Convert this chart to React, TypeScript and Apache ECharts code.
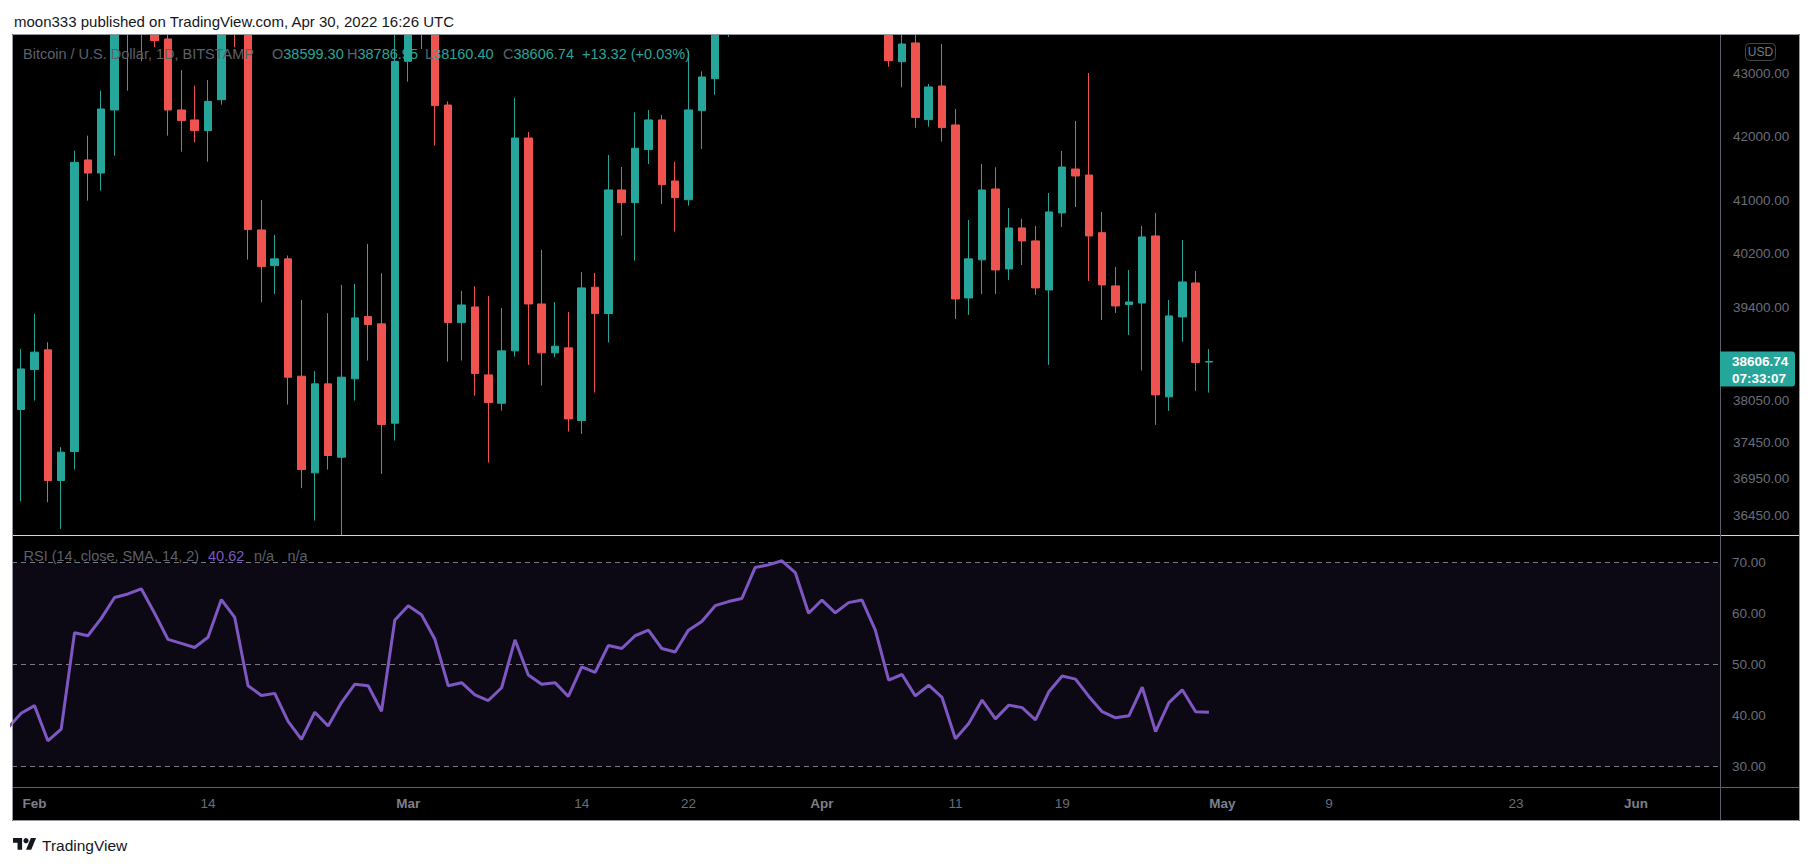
import React, { useEffect, useRef } from 'react';
import * as echarts from 'echarts';

// ---------- data ----------
const CANDLE_START = '2022-01-31';
const candleOpen = [
  37919, 38491, 38776, 36924, 37327, 41634, 41431, 42421, 43850, 44100, 44380, 43564, 42421, 42263, 42094, 42585, 44580, 43940, 40557, 40019, 40120, 38395, 37030, 38285, 37248, 38357, 39262, 39155, 37725,
  43201, 44420, 43920, 42500, 39174, 39404, 38414, 38008, 38761, 41978, 39448, 38732, 38805, 37763, 39696, 39306, 41169, 40974, 41796, 42263, 41308, 41019, 42411, 42921, 44000, 44350, 44530, 46830, 47130, 47450, 47080,
  45540, 46300, 45820, 46420, 46600, 45500, 43195, 43499, 42268, 42804, 42184, 39537, 40105, 41184, 39969, 40587, 40391, 39656, 40816, 41493, 41400, 40516, 39716, 39438, 39462, 40466, 38099, 39257, 39760, 38599.3,
];
const candleClose = [
  38500, 38742, 36924, 37318, 41597, 41431, 42437, 43850, 44100, 44380, 43537, 42421, 42252, 42094, 42558, 44580, 43940, 40562, 40004, 40120, 38381, 37076, 38285, 37271, 38381, 39243, 39145, 37706, 43201,
  44420, 43920, 42490, 39174, 39433, 38433, 38018, 38761, 41978, 39448, 38732, 38829, 37786, 39686, 39306, 41169, 40974, 41817, 42263, 41251, 41050, 42421, 42948, 44000, 44350, 44530, 46830, 47130, 47450, 47080, 45540,
  46300, 45820, 46420, 46600, 45500, 43211, 43482, 42300, 42788, 42141, 39522, 40120, 41169, 39954, 40587, 40391, 39686, 40831, 41524, 41385, 40466, 39731, 39419, 39477, 40451, 38127, 39272, 39775, 38593.42, 38606.74,
];
const candleLow = [
  36634, 38046, 36625, 36261, 37076, 41004, 41159, 41702, 42729, 43201, 43428, 42015, 41764, 41911, 41608, 42506, 43428, 40109, 39473, 39596, 37989, 36818, 36375, 37076, 34330, 38046, 38621, 37016, 37481,
  42873, 43401, 41858, 38606, 38621, 38118, 37173, 37904, 38679, 38558, 38261, 38669, 37607, 37574, 38161, 38882, 40471, 40094, 41571, 40953, 40531, 40928, 41806, 42665, 43600, 44100, 44400, 46650, 46950, 46600, 45200,
  44250, 45650, 45550, 45150, 45360, 43114, 42783, 42141, 42157, 41921, 39228, 39287, 39596, 39596, 39805, 40029, 39582, 38558, 40602, 40907, 39790, 39213, 39316, 38993, 38477, 37701, 37900, 38892, 38185, 38160.4,
];
const candleHigh = [
  38790, 39301, 38887, 37388, 41780, 42015, 42729, 44500, 45000, 44800, 45800, 43900, 43060, 42809, 42900, 44750, 44600, 44200, 41014, 40481, 40170, 39507, 38467, 39311, 39731, 39746, 40345, 39905, 44200,
  44950, 45400, 44100, 42558, 39641, 39711, 39567, 39389, 42612, 42073, 40255, 39477, 39331, 39924, 39910, 41712, 41524, 42384, 42421, 42342, 41603, 43374, 43039, 44200, 45100, 44800, 46900, 48200, 48100, 47700, 47600,
  46700, 47200, 47400, 46900, 47200, 45500, 43900, 43950, 42836, 43482, 42437, 40709, 41571, 41519, 40892, 40725, 40618, 41122, 41775, 42247, 43012, 40831, 39999, 39954, 40618, 40816, 39507, 40406, 39939, 38786.95,
];

const RSI_START = '2022-01-30';
const rsiValues = [
  37.5, 40.4,
  41.9, 35.0, 37.3, 56.2, 55.6, 59.0, 63.1, 63.8, 64.8, 60.0, 54.9, 54.1, 53.3, 55.3, 62.7, 59.2, 45.8, 43.9, 44.3, 38.8, 35.3, 40.6, 37.9, 42.5, 46.1, 45.8, 40.8, 58.7,
  61.5, 59.7, 54.9, 45.8, 46.4, 44.0, 42.9, 45.4, 54.8, 47.9, 46.1, 46.4, 43.7, 49.5, 48.4, 53.7, 53.1, 55.6, 56.7, 53.1, 52.4, 56.7, 58.4, 61.5, 62.3, 62.9, 69.0, 69.5, 70.3, 68.0, 60.0,
  62.6, 60.1, 62.1, 62.6, 56.7, 46.9, 48.0, 43.8, 45.9, 43.5, 35.4, 38.4, 43.0, 39.3, 42.0, 41.5, 39.1, 44.6, 47.7, 47.1, 43.7, 40.7, 39.5, 39.9, 45.5, 36.8, 42.5, 45.0, 40.7, 40.62,
];

const priceTicks = [36450, 36950, 37450, 38050, 39400, 40200, 41000, 42000, 43000];
const rsiTicks = [30, 40, 50, 60, 70];
const rsiLevels = [70, 50, 30];
const timeTickDates = ['2022-02-01', '2022-02-14', '2022-03-01', '2022-03-14', '2022-03-22', '2022-04-01', '2022-04-11', '2022-04-19', '2022-05-01', '2022-05-09', '2022-05-23', '2022-06-01'];
const timeTickLabels = ['Feb', '14', 'Mar', '14', '22', 'Apr', '11', '19', 'May', '9', '23', 'Jun'];
const monthNames = ['Jan', 'Feb', 'Mar', 'Apr', 'May', 'Jun'];

const lastPrice = 38606.74;
const lastTimer = '07:33:07';
const legendOHLC = ['38599.30', '38786.95', '38160.40', '38606.74'];
const legendChange = '+13.32 (+0.03%)';
const rsiLast = '40.62';

// ---------- helpers ----------
const DAY_MS = 86400000;
const ORIGIN = Date.UTC(2022, 1, 1);
const dayIndex = (iso: string) => (Date.parse(iso) - ORIGIN) / DAY_MS;

const FONT = '"Liberation Sans", Arial, Helvetica, sans-serif';
const UP = '#26a69a';
const DOWN = '#ef5350';
const AXIS_TEXT = '#6a6d78';
const LEGEND_GRAY = '#5d606b';
const LINE_GRAY = '#5d606b';

// layout (pixels)
const PLOT_L = 12;
const PLOT_R = 1720;
const FRAME_R = 1800;
const FRAME_T = 34;
const FRAME_B = 821;
const PANE_SEP = 535;
const TIME_TOP = 787;

const X_MIN = -1.686;
const X_MAX = 126.29;
const P_MIN = 36178;
const P_MAX = 43629;
const R_MIN = 25.94;
const R_MAX = 75.16;

export default function App() {
  const ref = useRef<HTMLDivElement>(null);

  useEffect(() => {
    const el = ref.current;
    if (!el) return;
    const chart = echarts.init(el, null, { renderer: 'svg' });

    const c0 = dayIndex(CANDLE_START);
    const candleData = candleOpen.map((o, i) => [c0 + i, o, candleClose[i], candleLow[i], candleHigh[i]]);
    const r0 = dayIndex(RSI_START);
    const rsiData = rsiValues.map((v, i) => [r0 + i, v]);
    const timeTickX = timeTickDates.map(dayIndex);

    chart.setOption({
      animation: false,
      backgroundColor: '#ffffff',
      grid: [
        { left: PLOT_L, top: 35, width: PLOT_R - PLOT_L, height: PANE_SEP - 35, outerBoundsMode: 'none', containLabel: false },
        { left: PLOT_L, top: PANE_SEP + 1, width: PLOT_R - PLOT_L, height: TIME_TOP - PANE_SEP - 1, outerBoundsMode: 'none', containLabel: false },
      ],
      xAxis: [
        { type: 'value', gridIndex: 0, min: X_MIN, max: X_MAX, show: false },
        {
          type: 'value', gridIndex: 1, min: X_MIN, max: X_MAX,
          axisLine: { show: false }, axisTick: { show: false }, splitLine: { show: false },
          z: 20,
          axisLabel: {
            customValues: timeTickX,
            margin: 9,
            formatter: (v: number) => {
              const i = timeTickX.indexOf(Math.round(v));
              if (i < 0) return '';
              const lab = timeTickLabels[i];
              return monthNames.includes(lab) ? `{m|${lab}}` : `{d|${lab}}`;
            },
            rich: {
              m: { fontFamily: FONT, fontSize: 13.5, fontWeight: 'bold', color: '#7c7f8a' },
              d: { fontFamily: FONT, fontSize: 13.5, color: AXIS_TEXT },
            },
          },
        },
      ],
      yAxis: [
        { type: 'log', logBase: 10, gridIndex: 0, min: P_MIN, max: P_MAX, show: false },
        {
          type: 'value', gridIndex: 1, position: 'right', min: R_MIN, max: R_MAX,
          axisLine: { show: false }, axisTick: { show: false }, splitLine: { show: false },
          z: 20,
          axisLabel: {
            customValues: rsiTicks,
            margin: 12,
            color: AXIS_TEXT, fontFamily: FONT, fontSize: 13.5,
            formatter: (v: number) => v.toFixed(2),
          },
        },
      ],
      series: [
        {
          type: 'candlestick',
          xAxisIndex: 0, yAxisIndex: 0,
          dimensions: ['day', 'open', 'close', 'low', 'high'],
          encode: { x: 0, y: [1, 2, 3, 4] },
          data: candleData,
          barWidth: 8,
          clip: true,
          z: 2,
          itemStyle: { color: UP, color0: DOWN, borderColor: UP, borderColor0: DOWN, borderWidth: 1 },
        },
        {
          type: 'line',
          xAxisIndex: 1, yAxisIndex: 1,
          data: rsiData,
          symbol: 'none', showSymbol: false,
          clip: true,
          lineStyle: { color: '#7e57c2', width: 3 },
          z: 8,
          markArea: {
            z: 5,
            silent: true,
            itemStyle: { color: 'rgba(126,87,194,0.1)' },
            data: [[{ yAxis: 30 }, { yAxis: 70 }]],
          },
          markLine: {
            z: 6,
            silent: true,
            symbol: ['none', 'none'],
            label: { show: false },
            lineStyle: { color: '#787b86', width: 1, type: [5, 4] },
            data: rsiLevels.map((v) => ({ yAxis: v })),
          },
        },
      ],
    });

    const py = (v: number) => chart.convertToPixel({ yAxisIndex: 0 }, v) as unknown as number;

    const elements: any[] = [];
    // black chart area (beneath the series)
    elements.push({ type: 'rect', z: 0, silent: true, shape: { x: PLOT_L, y: FRAME_T, width: FRAME_R - PLOT_L, height: FRAME_B - FRAME_T }, style: { fill: '#000000' } });
    // covers that hide the candles' overflow outside the price pane
    elements.push({ type: 'rect', z: 4, silent: true, shape: { x: 0, y: 0, width: 1813, height: FRAME_T }, style: { fill: '#ffffff' } });
    elements.push({ type: 'rect', z: 4, silent: true, shape: { x: PLOT_L, y: PANE_SEP, width: PLOT_R - PLOT_L, height: FRAME_B - PANE_SEP }, style: { fill: '#000000' } });
    // separators
    elements.push({ type: 'line', z: 10, silent: true, shape: { x1: PLOT_L, y1: PANE_SEP + 0.5, x2: FRAME_R, y2: PANE_SEP + 0.5 }, style: { stroke: '#d1d4dc', lineWidth: 1 } });
    elements.push({ type: 'line', z: 10, silent: true, shape: { x1: PLOT_L, y1: TIME_TOP + 0.5, x2: FRAME_R, y2: TIME_TOP + 0.5 }, style: { stroke: LINE_GRAY, lineWidth: 1 } });
    elements.push({ type: 'line', z: 10, silent: true, shape: { x1: PLOT_R + 0.5, y1: FRAME_T, x2: PLOT_R + 0.5, y2: FRAME_B }, style: { stroke: LINE_GRAY, lineWidth: 1 } });
    // outer frame
    elements.push({ type: 'rect', z: 11, silent: true, shape: { x: PLOT_L + 0.5, y: FRAME_T + 0.5, width: FRAME_R - PLOT_L - 1, height: FRAME_B - FRAME_T - 1 }, style: { fill: 'none', stroke: '#9598a1', lineWidth: 1 } });

    // header
    elements.push({ type: 'text', z: 12, silent: true, x: 14, y: 21, style: { text: 'moon333 published on TradingView.com, Apr 30, 2022 16:26 UTC', fill: '#131722', font: `15px ${FONT}`, verticalAlign: 'middle', align: 'left' } });

    // legend
    const rich = {
      g: { fill: LEGEND_GRAY, fontFamily: FONT, fontSize: 14.5 },
      v: { fill: UP, fontFamily: FONT, fontSize: 14.5 },
      p: { fill: '#7e57c2', fontFamily: FONT, fontSize: 14.5 },
    };
    const legendItems: [number, string][] = [
      [23, '{g|Bitcoin / U.S. Dollar, 1D, BITSTAMP}'],
      [272, `{g|O}{v|${legendOHLC[0]}}`],
      [347, `{g|H}{v|${legendOHLC[1]}}`],
      [425, `{g|L}{v|${legendOHLC[2]}}`],
      [503, `{g|C}{v|${legendOHLC[3]}}`],
      [582, `{v|${legendChange}}`],
    ];
    legendItems.forEach(([x, t]) => {
      elements.push({ type: 'text', z: 12, silent: true, x, y: 54, style: { text: t, rich, verticalAlign: 'middle', align: 'left' } });
    });
    const rsiLegend: [number, string][] = [
      [23.5, '{g|RSI (14, close, SMA, 14, 2)}'],
      [208, `{p|${rsiLast}}`],
      [254, '{g|n/a}'],
      [287.5, '{g|n/a}'],
    ];
    rsiLegend.forEach(([x, t]) => {
      elements.push({ type: 'text', z: 12, silent: true, x, y: 556, style: { text: t, rich, verticalAlign: 'middle', align: 'left' } });
    });

    // price axis labels (log scale, positioned by the axis)
    priceTicks.forEach((v) => {
      elements.push({ type: 'text', z: 12, silent: true, x: 1733, y: py(v), style: { text: v.toFixed(2), fill: AXIS_TEXT, font: `13.5px ${FONT}`, verticalAlign: 'middle', align: 'left' } });
    });

    // USD badge
    elements.push({ type: 'rect', z: 12, silent: true, shape: { x: 1745.5, y: 43.5, width: 30, height: 17, r: 4 }, style: { fill: 'none', stroke: '#434651', lineWidth: 1 } });
    elements.push({ type: 'text', z: 13, silent: true, x: 1760.5, y: 52, style: { text: 'USD', fill: '#787b86', font: `12px ${FONT}`, align: 'center', verticalAlign: 'middle' } });

    // last price badge
    const ly = py(lastPrice);
    elements.push({ type: 'rect', z: 12, silent: true, shape: { x: PLOT_R, y: ly - 10, width: 75, height: 35, r: [0, 3, 3, 0] }, style: { fill: UP } });
    elements.push({ type: 'text', z: 13, silent: true, x: 1732, y: ly, style: { text: lastPrice.toFixed(2), fill: '#ffffff', font: `bold 13.5px ${FONT}`, align: 'left', verticalAlign: 'middle' } });
    elements.push({ type: 'text', z: 13, silent: true, x: 1732, y: ly + 16.5, style: { text: lastTimer, fill: '#ffffff', font: `bold 13.5px ${FONT}`, align: 'left', verticalAlign: 'middle' } });

    // TradingView logo
    elements.push({
      type: 'group', z: 12, silent: true, x: 13, y: 835.5, scaleX: 0.65, scaleY: 0.65,
      children: [
        { type: 'polygon', z: 12, shape: { points: [[0, 4], [14, 4], [14, 22], [7, 22], [7, 11], [0, 11]] }, style: { fill: '#131722' } },
        { type: 'polygon', z: 12, shape: { points: [[20, 22], [28, 22], [35.5, 4], [27.5, 4]] }, style: { fill: '#131722' } },
        { type: 'circle', z: 12, shape: { cx: 20, cy: 8, r: 4 }, style: { fill: '#131722' } },
      ],
    });
    elements.push({ type: 'text', z: 12, silent: true, x: 42, y: 845, style: { text: 'TradingView', fill: '#131722', font: `15.5px ${FONT}`, align: 'left', verticalAlign: 'middle' } });

    chart.setOption({ graphic: { elements } });

    return () => {
      chart.dispose();
    };
  }, []);

  return (
    <div
      ref={ref}
      style={{ position: 'fixed', left: 0, top: 0, width: 1813, height: 866, background: '#ffffff' }}
    />
  );
}
